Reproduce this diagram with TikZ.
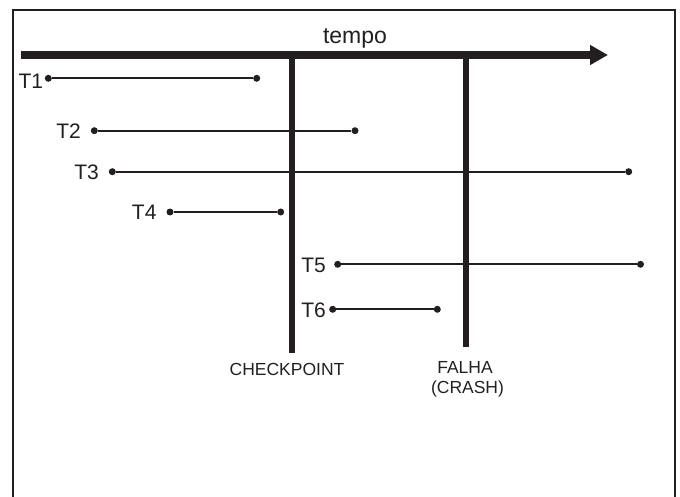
\documentclass[tikz,border=0pt]{standalone}
\usepackage{fontspec}
\setmainfont{Liberation Sans}
\usetikzlibrary{arrows.meta}
\definecolor{ink}{HTML}{231F20}
\begin{document}
\begin{tikzpicture}[x=1pt,y=-1pt,
  dot/.style={circle,fill=ink,inner sep=0pt,minimum size=7pt},
  tline/.style={draw=ink,line width=2pt},
  tlab/.style={anchor=base east,inner sep=0pt,text=ink,font=\fontsize{21}{25}\selectfont},
  small/.style={anchor=base,inner sep=0pt,text=ink,font=\fontsize{17.5}{20}\selectfont},
  bar/.style={draw=ink,line width=6pt}]
\useasboundingbox (0,0) rectangle (680,497);
% frame (open at bottom)
\draw[ink,line width=1.8pt] (13,497) -- (13,10) -- (675,10) -- (675,497);
% time axis
\coordinate (axs) at (21,55);
\coordinate (axe) at (608,55);
\draw[ink,line width=7.5pt,-{Triangle[length=18pt,width=19pt]}] (axs) -- (axe);
\node[anchor=base,inner sep=0pt,text=ink,font=\fontsize{23}{27}\selectfont] (tempo) at (355,43.3) {tempo};
% checkpoint and crash lines
\coordinate (cpt) at (291.7,55);
\coordinate (cpb) at (291.7,353);
\coordinate (crt) at (466,55);
\coordinate (crb) at (466,347.3);
\draw[bar] (cpt) -- (cpb);
\draw[bar,line width=5.6pt] (crt) -- (crb);
\node[small] (cplab) at (287,375) {CHECKPOINT};
\node[small] (falha) at (465,373.3) {FALHA};
\node[small] (crash) at (467.5,393.3) {(CRASH)};
% transactions
\node[dot] (t1a) at (48.3,78.3) {};
\node[dot] (t1b) at (256.7,78.3) {};
\draw[tline] (t1a) -- (t1b);
\node[tlab] (t1) at (43.3,89) {T1};
\node[dot] (t2a) at (94.3,130.7) {};
\node[dot] (t2b) at (355,130.7) {};
\draw[tline] (t2a) -- (t2b);
\node[tlab] (t2) at (81,138.5) {T2};
\node[dot] (t3a) at (112.3,171.7) {};
\node[dot] (t3b) at (628.7,171.7) {};
\draw[tline] (t3a) -- (t3b);
\node[tlab] (t3) at (99,179.5) {T3};
\node[dot] (t4a) at (170,212) {};
\node[dot] (t4b) at (280.7,212) {};
\draw[tline] (t4a) -- (t4b);
\node[tlab] (t4) at (156.7,220) {T4};
\node[dot] (t5a) at (337.7,264.3) {};
\node[dot] (t5b) at (640.5,264.3) {};
\draw[tline] (t5a) -- (t5b);
\node[tlab] (t5) at (326,272.5) {T5};
\node[dot] (t6a) at (332.7,309.3) {};
\node[dot] (t6b) at (437.3,309.3) {};
\draw[tline] (t6a) -- (t6b);
\node[tlab] (t6) at (326,317.3) {T6};
\end{tikzpicture}
\end{document}
